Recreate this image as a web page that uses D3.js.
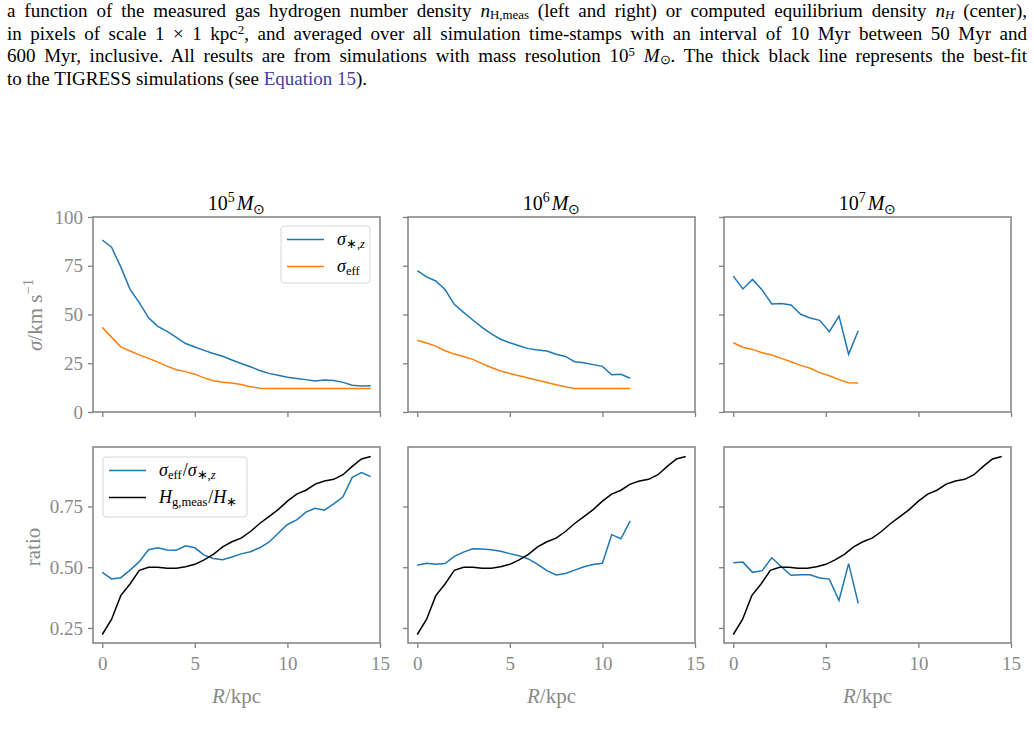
<!DOCTYPE html>
<html>
<head>
<meta charset="utf-8">
<script src="https://cdn.jsdelivr.net/npm/d3@7"></script>
<style>
  body { margin: 0; background: #fff; }
  #wrap { position: relative; width: 1034px; height: 735px; overflow: hidden; }
  .cap { position: absolute; left: 7px; width: 1020px; font-family: "Liberation Serif", serif;
         font-size: 19px; color: #000; white-space: nowrap; line-height: 22px; }
  .cap.j { text-align: justify; text-align-last: justify; white-space: normal; }
  .cap sub { font-size: 68%; line-height: 0; vertical-align: -0.18em; }
  .cap sup { font-size: 68%; line-height: 0; vertical-align: 0.45em; }
  svg { position: absolute; left: 0; top: 0; }
</style>
</head>
<body>
<div id="wrap"></div>
<script>
// radii (kpc)
const radii5 = [0,0.5,1,1.5,2,2.5,3,3.5,4,4.5,5,5.5,6,6.5,7,7.5,8,8.5,9,9.5,10,10.5,11,11.5,12,12.5,13,13.5,14,14.5];
const radii6 = [0,0.5,1,1.5,2,2.5,3,3.5,4,4.5,5,5.5,6,6.5,7,7.5,8,8.5,9,9.5,10,10.5,11,11.5];
const radii7 = [0,0.52,1.04,1.56,2.08,2.6,3.12,3.64,4.15,4.67,5.19,5.71,6.23,6.75];

// sigma_{*,z} and sigma_eff (km/s)
const sigStar5 = [88.2,84.5,74.4,62.9,56.1,48.3,43.9,41.3,38.3,35.1,33.3,31.6,30.0,28.6,26.7,24.9,23.2,21.3,19.8,18.9,17.8,17.2,16.6,15.9,16.4,16.1,15.2,13.7,13.3,13.5];
const sigEff5  = [43.4,38.4,33.4,31.3,29.3,27.5,25.6,23.5,21.7,20.7,19.4,17.5,16.0,15.3,14.9,14.1,13.0,12.2,12.0,12.0,12.0,12.0,12.0,12.0,12.0,12.0,12.0,12.0,12.0,12.0];
const sigStar6 = [72.5,69.3,67.2,62.8,55.2,51.1,47.2,43.4,40.1,37.3,35.5,34.0,32.5,31.8,31.3,29.6,28.5,25.8,25.3,24.3,23.4,19.1,19.3,17.3];
const sigEff6  = [36.8,35.4,33.8,31.4,29.7,28.5,27.0,24.8,22.8,21.0,19.7,18.6,17.4,16.3,15.1,14.0,12.9,12.1,12.0,12.0,12.0,12.0,12.0,12.0];
const sigStar7 = [69.7,63.1,68.0,62.6,55.4,55.7,54.9,50.1,48.2,47.0,41.2,49.2,29.6,41.7];
const sigEff7  = [35.5,33.2,32.1,30.4,29.2,27.5,25.8,23.9,22.4,20.2,18.6,16.6,15.0,14.9];

// sigma_eff / sigma_{*,z}
const ratio5 = [0.479,0.452,0.457,0.488,0.523,0.572,0.580,0.571,0.570,0.588,0.580,0.550,0.536,0.531,0.542,0.555,0.564,0.580,0.603,0.640,0.676,0.695,0.727,0.743,0.735,0.761,0.790,0.870,0.890,0.873];
const ratio6 = [0.508,0.516,0.512,0.515,0.545,0.562,0.576,0.575,0.572,0.566,0.556,0.547,0.534,0.512,0.486,0.468,0.474,0.488,0.502,0.511,0.516,0.634,0.617,0.691];
const ratio7 = [0.518,0.521,0.479,0.486,0.539,0.502,0.467,0.469,0.469,0.456,0.451,0.363,0.515,0.351];

// H_{g,meas}/H_* (same in every column)
const hRatio = [0.223,0.285,0.383,0.431,0.487,0.500,0.500,0.496,0.496,0.502,0.512,0.530,0.553,0.584,0.605,0.620,0.647,0.680,0.708,0.737,0.772,0.801,0.817,0.842,0.855,0.862,0.881,0.915,0.946,0.956];

const massExp = ["5", "6", "7"];
const xTicks = [0, 5, 10, 15];
const sigTicks = [0, 25, 50, 75, 100];
const ratioTicks = [0.25, 0.50, 0.75];

const blue = "#1f77b4", orange = "#ff7f0e";
const frameCol = "#808080", labelCol = "#8a8a8a";
const font = "'Liberation Serif', serif";

const wrap = d3.select("#wrap");

// caption text above the figure
const capLines = [
  {top: 0, j: true, html: "a function of the measured gas hydrogen number density <i>n</i><sub>H,meas</sub> (left and right) or computed equilibrium density <i>n<sub>H</sub></i> (center),"},
  {top: 22.5, j: true, html: "in pixels of scale 1 &times; 1 kpc<sup>2</sup>, and averaged over all simulation time-stamps with an interval of 10 Myr between 50 Myr and"},
  {top: 45, j: true, html: "600 Myr, inclusive. All results are from simulations with mass resolution 10<sup>5</sup> <i>M</i><sub>&#8857;</sub>. The thick black line represents the best-fit"},
  {top: 67.5, j: false, html: "to the TIGRESS simulations (see <span style='color:#3f3f9f'>Equation 15</span>)."}
];
capLines.forEach(l => {
  wrap.append("div").attr("class", "cap" + (l.j ? " j" : ""))
    .style("top", l.top + "px").html(l.html);
});

const svg = wrap.append("svg").attr("width", 1034).attr("height", 735);

function mathText(sel, parts, size) {
  let shift = 0;
  parts.forEach(p => {
    const target = p.sub ? 0.22 * size : p.sup ? -0.42 * size : 0;
    const ts = sel.append("tspan").text(p.t)
      .attr("dy", target - shift)
      .attr("font-size", (p.sub || p.sup) ? size * 0.7 : size);
    if (p.it) ts.attr("font-style", "italic");
    if (p.dx) ts.attr("dx", p.dx);
    shift = target;
  });
}

const colX = [93, 408, 724];
const panelW = 287;
const rowTop = [{y0: 217, y1: 412}, {y0: 447, y1: 643}];

const yScaleTop = d3.scaleLinear().domain([0, 100]).range([rowTop[0].y1, rowTop[0].y0]);
const yScaleBot = d3.scaleLinear().domain([0.188, 0.995]).range([rowTop[1].y1, rowTop[1].y0]);

const columns = [
  {R: radii5, star: sigStar5, eff: sigEff5, ratio: ratio5},
  {R: radii6, star: sigStar6, eff: sigEff6, ratio: ratio6},
  {R: radii7, star: sigStar7, eff: sigEff7, ratio: ratio7}
];

function styleAxis(g, showLabels) {
  g.select(".domain").remove();
  g.selectAll(".tick line").attr("stroke", frameCol).attr("stroke-width", 1.3);
  g.selectAll(".tick text").attr("fill", labelCol).attr("font-family", font).attr("font-size", 19);
  if (!showLabels) g.selectAll(".tick text").remove();
}

columns.forEach((c, ci) => {
  const x = d3.scaleLinear().domain([-0.5, 15]).range([colX[ci], colX[ci] + panelW]);

  [0, 1].forEach(ri => {
    const y = ri === 0 ? yScaleTop : yScaleBot;
    const g = svg.append("g");

    const xa = g.append("g").attr("transform", `translate(0,${rowTop[ri].y1})`)
      .call(d3.axisBottom(x).tickValues(xTicks).tickSize(5).tickPadding(9).tickFormat(d3.format("d")));
    styleAxis(xa, ri === 1);

    const ya = g.append("g").attr("transform", `translate(${colX[ci]},0)`)
      .call(d3.axisLeft(y).tickValues(ri === 0 ? sigTicks : ratioTicks).tickSize(5).tickPadding(5)
        .tickFormat(ri === 0 ? d3.format("d") : d3.format(".2f")));
    styleAxis(ya, ci === 0);

    const line = d3.line().x(d => x(d[0])).y(d => y(d[1]));
    if (ri === 0) {
      g.append("path").datum(d3.zip(c.R, c.star)).attr("d", line)
        .attr("fill", "none").attr("stroke", blue).attr("stroke-width", 1.5);
      g.append("path").datum(d3.zip(c.R, c.eff)).attr("d", line)
        .attr("fill", "none").attr("stroke", orange).attr("stroke-width", 1.5);
    } else {
      g.append("path").datum(d3.zip(c.R, c.ratio)).attr("d", line)
        .attr("fill", "none").attr("stroke", blue).attr("stroke-width", 1.5);
      g.append("path").datum(d3.zip(radii5, hRatio)).attr("d", line)
        .attr("fill", "none").attr("stroke", "#000").attr("stroke-width", 1.5);
    }

    g.append("rect").attr("x", colX[ci]).attr("y", rowTop[ri].y0)
      .attr("width", panelW).attr("height", rowTop[ri].y1 - rowTop[ri].y0)
      .attr("fill", "none").attr("stroke", frameCol).attr("stroke-width", 1.5);
  });

  // title
  const t = svg.append("text").attr("x", colX[ci] + panelW / 2).attr("y", 210)
    .attr("text-anchor", "middle").attr("font-family", font).attr("fill", "#000");
  mathText(t, [{t: "10"}, {t: massExp[ci], sup: true}, {t: "M", it: true, dx: 2}, {t: "\u2299", sub: true}], 20);

  // x label
  const xl = svg.append("text").attr("x", colX[ci] + panelW / 2).attr("y", 703)
    .attr("text-anchor", "middle").attr("font-family", font).attr("fill", labelCol);
  mathText(xl, [{t: "R", it: true}, {t: "/kpc"}], 21);
});

// y labels
const yl1 = svg.append("text").attr("transform", "translate(42,315) rotate(-90)")
  .attr("text-anchor", "middle").attr("font-family", font).attr("fill", labelCol);
mathText(yl1, [{t: "\u03c3", it: true}, {t: "/km s"}, {t: "\u22121", sup: true}], 21);

const yl2 = svg.append("text").attr("transform", "translate(40,547) rotate(-90)")
  .attr("text-anchor", "middle").attr("font-family", font).attr("fill", labelCol);
mathText(yl2, [{t: "ratio"}], 21);

// legends
function legend(x0, y0, w, h, items) {
  const g = svg.append("g");
  g.append("rect").attr("x", x0).attr("y", y0).attr("width", w).attr("height", h)
    .attr("rx", 3).attr("fill", "#fff").attr("fill-opacity", 0.8)
    .attr("stroke", "#d6d6d6").attr("stroke-width", 1);
  items.forEach((it, i) => {
    const yy = y0 + 13.5 + i * 27;
    g.append("line").attr("x1", x0 + 6).attr("x2", x0 + 43).attr("y1", yy).attr("y2", yy)
      .attr("stroke", it.color).attr("stroke-width", 1.5);
    const tx = g.append("text").attr("x", x0 + 56).attr("y", yy + 5)
      .attr("font-family", font).attr("fill", "#000");
    mathText(tx, it.parts, 18);
  });
}
legend(281, 226, 89, 57, [
  {color: blue, parts: [{t: "\u03c3", it: true}, {t: "\u2217,", sub: true}, {t: "z", sub: true, it: true}]},
  {color: orange, parts: [{t: "\u03c3", it: true}, {t: "eff", sub: true}]}
]);
legend(103, 457, 144, 60, [
  {color: blue, parts: [{t: "\u03c3", it: true}, {t: "eff", sub: true}, {t: "/", dx: 1}, {t: "\u03c3", it: true}, {t: "\u2217,", sub: true}, {t: "z", sub: true, it: true}]},
  {color: "#000", parts: [{t: "H", it: true}, {t: "g,meas", sub: true}, {t: "/", dx: 1}, {t: "H", it: true}, {t: "\u2217", sub: true}]}
]);
</script>
</body>
</html>
